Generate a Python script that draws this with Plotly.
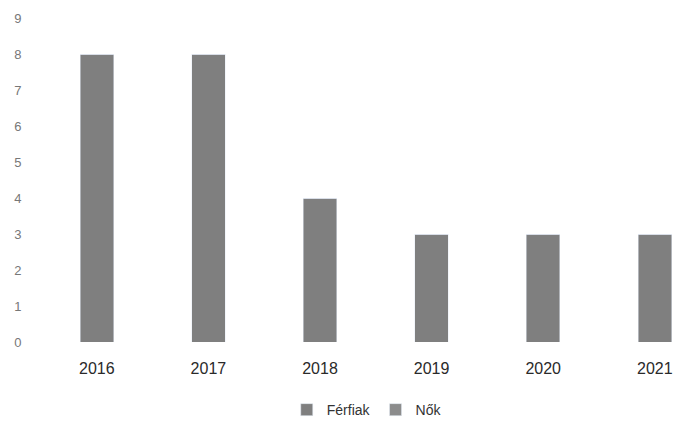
import plotly.graph_objects as go

years = ["2016", "2017", "2018", "2019", "2020", "2021"]
ferfiak = [8, 8, 4, 3, 3, 3]
nok = [0, 0, 0, 0, 0, 0]
y_ticks = list(range(0, 10))

fig = go.Figure()
fig.add_trace(go.Bar(x=years, y=ferfiak, name="Férfiak", marker_color="#7f7f7f",
                     width=0.3))
fig.add_trace(go.Bar(x=years, y=nok, name="Nők", marker_color="#8c8c8c",
                     width=0.3))

fig.update_layout(
    width=676, height=421,
    margin=dict(l=41, r=0, t=18, b=79, autoexpand=False),
    plot_bgcolor="white", paper_bgcolor="white",
    barmode="stack",
    font=dict(family="Liberation Sans, Arial, sans-serif"),
    showlegend=True,
    legend=dict(orientation="h", x=0.513, xanchor="center", y=-0.21, yanchor="middle",
                font=dict(size=14, color="#333333"), itemwidth=30, traceorder="normal"),
    xaxis=dict(type="category", range=[-0.5, 5.19], showgrid=False, showline=False,
               automargin=False,
               ticks="outside", ticklen=12, tickcolor="rgba(0,0,0,0)",
               tickfont=dict(size=16, color="#2a2a2a")),
    yaxis=dict(range=[0, 9], tickvals=y_ticks, showgrid=False, showline=False,
               automargin=False,
               zeroline=False, ticks="outside", ticklen=16, tickcolor="rgba(0,0,0,0)",
               tickfont=dict(size=13, color="#777777")),
)

fig.write_html("out.html", config={"displayModeBar": False},
               post_script="document.body.style.margin='0';document.body.style.overflow='hidden';")
